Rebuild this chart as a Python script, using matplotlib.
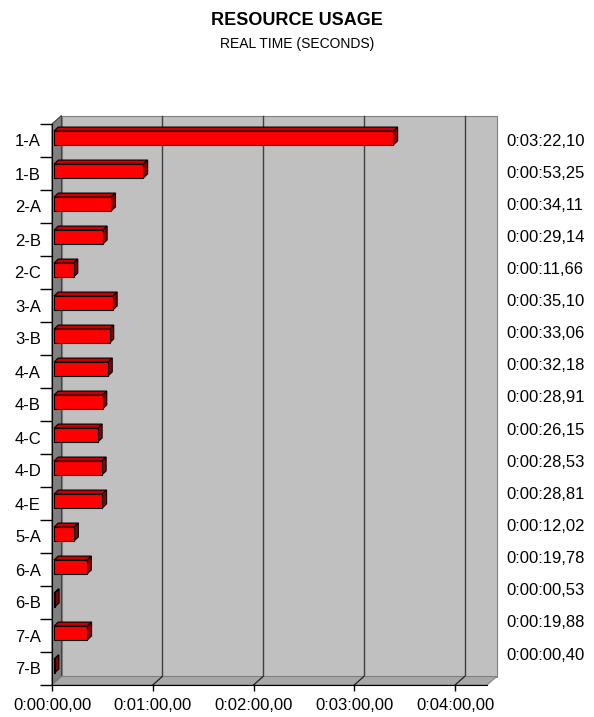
import numpy as np
import matplotlib
matplotlib.use("Agg")
import matplotlib.pyplot as plt
from matplotlib.patches import Polygon
from matplotlib.lines import Line2D
from matplotlib.transforms import IdentityTransform

plt.rcParams['font.family'] = ['Liberation Sans', 'DejaVu Sans']

categories = ['1-A', '1-B', '2-A', '2-B', '2-C', '3-A', '3-B', '4-A', '4-B',
              '4-C', '4-D', '4-E', '5-A', '6-A', '6-B', '7-A', '7-B']
seconds = [202.10, 53.25, 34.11, 29.14, 11.66, 35.10, 33.06, 32.18, 28.91,
           26.15, 28.53, 28.81, 12.02, 19.78, 0.53, 19.88, 0.40]
value_labels = ['0:03:22,10', '0:00:53,25', '0:00:34,11', '0:00:29,14',
                '0:00:11,66', '0:00:35,10', '0:00:33,06', '0:00:32,18',
                '0:00:28,91', '0:00:26,15', '0:00:28,53', '0:00:28,81',
                '0:00:12,02', '0:00:19,78', '0:00:00,53', '0:00:19,88',
                '0:00:00,40']
tick_seconds = [0, 60, 120, 180, 240]
tick_labels = ['0:00:00,00', '0:01:00,00', '0:02:00,00', '0:03:00,00',
               '0:04:00,00']

W, H = 594, 717
fig = plt.figure(figsize=(W / 100, H / 100), dpi=100)
ax = fig.add_axes([52 / W, 1 - 685 / H, 435 / W, 561 / H])
n = len(categories)
xmax = 259
ax.set_xlim(0, xmax)
ax.set_ylim(n - 0.5, -0.5)
ax.patch.set_visible(False)
ax.spines['top'].set_visible(False)
ax.spines['right'].set_visible(False)
ax.spines['left'].set_zorder(4)
ax.spines['bottom'].set_zorder(4)

# ticks
ax.set_yticks(range(n))
ax.set_yticklabels(categories, fontsize=12)
ax.set_yticks(np.arange(n + 1) - 0.5, minor=True)
ax.tick_params(axis='y', which='major', length=0, pad=8)
ax.tick_params(axis='y', which='minor', length=8.6, width=1, direction='out')
ax.set_xticks(tick_seconds)
ax.set_xticklabels(tick_labels, fontsize=12)
ax.tick_params(axis='x', length=4.5, width=1, direction='out', pad=5)


def px(x, y):
    return ax.transData.transform((x, y))


def add_poly(pts, fc, ec, lw=0.8, z=1):
    ax.add_artist(Polygon(pts, closed=True, facecolor=fc, edgecolor=ec,
                          linewidth=lw, transform=IdentityTransform(),
                          clip_on=False, zorder=z))


def add_line(xs, ys, color, lw=1, z=1):
    ax.add_artist(Line2D(xs, ys, color=color, linewidth=lw,
                         transform=IdentityTransform(), clip_on=False,
                         zorder=z))


# walls (3d look)
DX, DY = 9.5, 8.5
x0, y_top = px(0, -0.5)
xr, y_bot = px(xmax, n - 0.5)
add_poly([(x0 + DX, y_bot + DY), (xr + DX, y_bot + DY),
          (xr + DX, y_top + DY), (x0 + DX, y_top + DY)],
         '#c0c0c0', '#808080', z=0.5)
add_poly([(x0, y_bot), (x0 + DX, y_bot + DY), (x0 + DX, y_top + DY),
          (x0, y_top)], '#808080', '#404040', z=0.6)
add_poly([(x0, y_bot), (xr, y_bot), (xr + DX, y_bot + DY),
          (x0 + DX, y_bot + DY)], '#a8a8a8', '#808080', z=0.6)

for t in tick_seconds[1:]:
    xt = px(t, 0)[0]
    add_line([xt + DX, xt + DX], [y_bot + DY, y_top + DY], '#404040', z=0.55)
    add_line([xt, xt + DX], [y_bot, y_bot + DY], '#202020', lw=0.9, z=0.7)

# bars
h = 0.42
OX, OY = 2, 2.5
BDX, BDY = 4.2, 4
for i, v in enumerate(seconds):
    xa, yb = px(0, i + h / 2)
    xb, yt = px(v, i - h / 2)
    xa += OX; xb += OX; yb += OY; yt += OY
    add_poly([(xa, yt), (xb, yt), (xb + BDX, yt + BDY), (xa + BDX, yt + BDY)],
             '#c80000', 'black', z=3)
    add_poly([(xb, yb), (xb + BDX, yb + BDY), (xb + BDX, yt + BDY), (xb, yt)],
             '#8b0000', 'black', z=3)
    add_poly([(xa, yb), (xb, yb), (xb, yt), (xa, yt)], '#ff0000', 'black', z=3)

# value labels on the right (a text column beside the chart)
label_y = np.linspace(141, 655, n)
for lab, yy in zip(value_labels, label_y):
    fig.text(506 / W, 1 - yy / H, lab, fontsize=12, ha='left', va='center')

fig.text(0.5, 1 - 20.5 / H, 'RESOURCE USAGE', fontsize=13, fontweight='bold',
         ha='center', va='center')
fig.text(0.5, 1 - 44 / H, 'REAL TIME (SECONDS)', fontsize=10,
         ha='center', va='center')

fig.savefig('out.png', dpi=100)
